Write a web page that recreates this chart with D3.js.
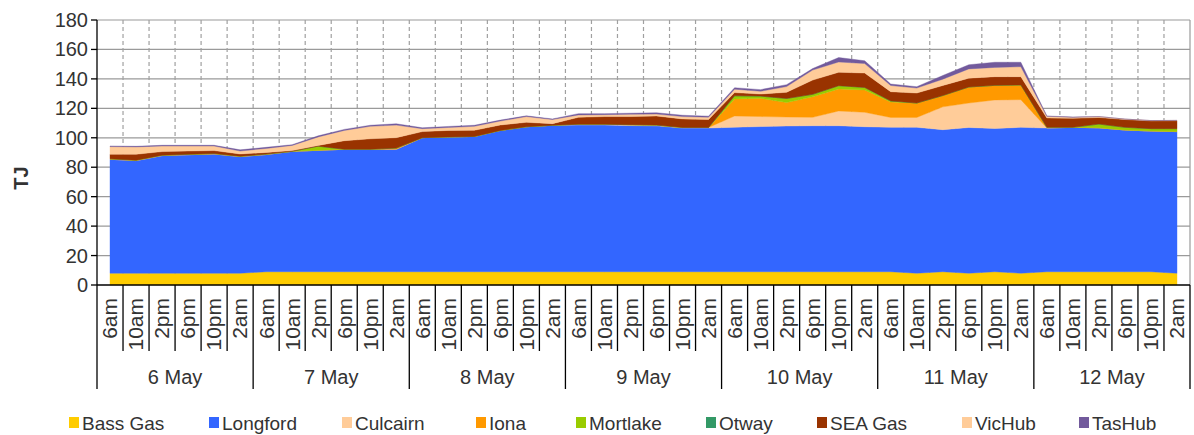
<!DOCTYPE html>
<html>
<head>
<meta charset="utf-8">
<script src="https://cdn.jsdelivr.net/npm/d3@7/dist/d3.min.js"></script>
<style>
  html, body { margin: 0; padding: 0; background: #fff; }
  svg { display: block; font-family: "Liberation Sans", Arial, sans-serif; }
</style>
</head>
<body>
<svg id="chart" width="1194" height="435"></svg>
<script>
// Victorian gas injections by supply point, 4-hourly, 6–12 May (TJ)
const days = ["6 May", "7 May", "8 May", "9 May", "10 May", "11 May", "12 May"];
const times = ["6am", "10am", "2pm", "6pm", "10pm", "2am"];
const yTicks = [0, 20, 40, 60, 80, 100, 120, 140, 160, 180];

const seriesNames = ["Bass Gas", "Longford", "Culcairn", "Iona", "Mortlake", "Otway", "SEA Gas", "VicHub", "TasHub"];
const seriesColors = ["#FFCC00", "#3366FF", "#FFCC99", "#FF9900", "#99CC00", "#339966", "#993300", "#FFCC99", "#725A9C"];

const bassGas = [8, 8, 8, 8, 8, 8, 9, 9, 9, 9, 9, 9, 9, 9, 9, 9, 9, 9, 9, 9, 9,
  9, 9, 9, 9, 9, 9, 9, 9, 9, 9, 8, 9, 8, 9, 8, 9, 9, 9, 9, 9, 8];
const longford = [77.4, 76.5, 79.9, 80.5, 81.0, 79.2, 79.6, 81.8, 82.5, 83.2, 83.2, 83.2,
  91.1, 91.6, 91.9, 96.0, 98.5, 99.5, 99.7, 99.7, 99.3, 99.1, 97.6, 97.6,
  98.2, 98.6, 99.0, 99.2, 99.2, 98.5, 98.1, 99.1, 96.5, 99.0, 97.3, 99.1,
  97.6, 98.1, 97.8, 96.3, 95.6, 96.2];
const culcairn = [0, 0, 0, 0, 0, 0, 0, 0, 0, 0, 0, 0, 0, 0, 0, 0, 0, 0,
  0.5, 0.5, 0.6, 0.5, 0.4, 0.4, 7.6, 6.8, 6.1, 5.7, 10.0, 9.8, 6.7, 6.7,
  15.5, 16.6, 19.4, 18.8, 0, 0, 0, 0, 0, 0];
const iona = [0.3, 0.3, 0.3, 0.3, 0.3, 0.3, 0.3, 0, 0, 0, 0, 0.8, 0, 0, 0, 0, 0, 0,
  0, 0, 0, 0, 0, 0, 11.6, 12.4, 9.8, 14.0, 15.0, 15.2, 10.5, 9.8,
  7.7, 10.9, 9.9, 10.0, 0.5, 0, 0, 0, 0, 0];
const mortlake = [0, 0, 0, 0, 0, 0, 0, 0, 2.8, 0, 0, 0, 0, 0, 0, 0, 0, 0,
  0, 0, 0, 0, 0, 0, 2.1, 1.5, 2.8, 1.6, 2.2, 1.7, 0.7, 0,
  0, 0, 0, 0, 0, 0, 2.5, 1.8, 1.6, 2.0];
const otway = [0, 0, 0, 0, 0, 0, 0, 0, 0, 0, 0, 0, 0, 0, 0, 0, 0, 0, 0, 0, 0,
  0, 0, 0, 0, 0, 0, 0, 0, 0, 0, 0, 0, 0, 0, 0, 0, 0, 0, 0, 0, 0];
const seaGas = [3.1, 4.0, 2.4, 2.2, 2.0, 1.5, 1.1, 0.5, 0.5, 5.8, 7.1, 7.1,
  4.1, 4.4, 4.2, 3.7, 3.0, 1.1, 4.7, 5.2, 5.5, 6.2, 5.8, 5.5,
  2.2, 1.4, 4.2, 9.7, 9.1, 9.8, 6.3, 6.8, 6.8, 6.0, 5.9, 5.6,
  6.4, 6.1, 4.5, 5.3, 5.3, 5.4];
const vicHub = [5.2, 5.0, 3.8, 3.4, 3.1, 2.0, 2.8, 3.5, 5.8, 7.0, 8.5, 8.5,
  2.0, 2.0, 2.7, 2.7, 3.9, 2.8, 1.6, 1.3, 1.6, 1.3, 1.6, 1.5,
  2.3, 1.9, 3.9, 6.8, 7.0, 6.4, 4.2, 3.4, 4.3, 6.3, 6.3, 6.8,
  1.1, 0.7, 0.6, 0.3, 0.2, 0.2];
const tasHub = [0.4, 0.4, 0.5, 0.5, 0.5, 0.8, 0.7, 0.5, 0.7, 0.7, 0.7, 0.9,
  0.6, 0.7, 0.7, 0.6, 0.5, 0.4, 0.9, 0.7, 0.7, 0.9, 0.9, 0.7,
  1.0, 1.1, 1.3, 1.0, 3.0, 1.9, 1.0, 0.9, 2.5, 2.8, 3.5, 3.0,
  0.2, 0.2, 0, 0, 0, 0];

const seriesValues = [bassGas, longford, culcairn, iona, mortlake, otway, seaGas, vicHub, tasHub];

// ---- build rows for the stack ----
const nPts = days.length * times.length;
const rows = d3.range(nPts).map(i => {
  const r = { idx: i };
  seriesNames.forEach((name, k) => { r[name] = seriesValues[k][i]; });
  return r;
});

// ---- layout ----
const plot = { left: 97, right: 1190, top: 20, bottom: 285 };
const svg = d3.select("#chart");
const textColor = "#333";

const x = d3.scaleBand().domain(d3.range(nPts)).range([plot.left, plot.right]);
const bw = x.bandwidth();
const cx = i => x(i) + bw / 2;
const y = d3.scaleLinear().domain([0, 180]).range([plot.bottom, plot.top]);

// ---- gridlines ----
const grid = svg.append("g");
grid.selectAll("line.h").data(yTicks.filter(t => t > 0)).join("line")
  .attr("x1", plot.left).attr("x2", plot.right)
  .attr("y1", d => y(d)).attr("y2", d => y(d))
  .attr("stroke", "#9a9a9a").attr("stroke-width", 1.2);
grid.selectAll("line.v").data(d3.range(1, nPts)).join("line")
  .attr("x1", d => plot.left + d * bw).attr("x2", d => plot.left + d * bw)
  .attr("y1", plot.top).attr("y2", plot.bottom)
  .attr("stroke", "#a0a0a0").attr("stroke-width", 1.2)
  .attr("stroke-dasharray", "4,3");
grid.append("line")
  .attr("x1", plot.right).attr("x2", plot.right)
  .attr("y1", plot.top).attr("y2", plot.bottom)
  .attr("stroke", "#9a9a9a").attr("stroke-width", 1.2);

// ---- stacked areas ----
const stack = d3.stack().keys(seriesNames);
const layers = stack(rows);
const area = d3.area()
  .x(d => cx(d.data.idx))
  .y0(d => y(d[0]))
  .y1(d => y(d[1]))
  .curve(d3.curveLinear);

svg.append("g").selectAll("path").data(layers).join("path")
  .attr("d", area)
  .attr("fill", (d, k) => seriesColors[k])
  .attr("stroke", (d, k) => seriesColors[k])
  .attr("stroke-width", 0.4);

// ---- y axis ----
const yAxis = svg.append("g");
yAxis.append("line")
  .attr("x1", plot.left).attr("x2", plot.left)
  .attr("y1", plot.top).attr("y2", plot.bottom)
  .attr("stroke", "#000").attr("stroke-width", 1.3);
yAxis.selectAll("line.t").data(yTicks).join("line")
  .attr("x1", plot.left - 6).attr("x2", plot.left)
  .attr("y1", d => y(d)).attr("y2", d => y(d))
  .attr("stroke", "#000").attr("stroke-width", 1.3);
yAxis.selectAll("text").data(yTicks).join("text")
  .attr("x", plot.left - 9).attr("y", d => y(d))
  .attr("dy", "0.35em").attr("text-anchor", "end")
  .attr("font-size", 20).attr("fill", textColor)
  .text(d => d);

svg.append("text")
  .attr("transform", "translate(21,178) rotate(-90)")
  .attr("dy", "0.35em").attr("text-anchor", "middle")
  .attr("font-size", 20).attr("font-weight", "bold").attr("fill", textColor)
  .text("TJ");

// ---- x axis (two-level categories) ----
const xAxis = svg.append("g");
xAxis.append("line")
  .attr("x1", plot.left).attr("x2", plot.right)
  .attr("y1", plot.bottom).attr("y2", plot.bottom)
  .attr("stroke", "#000").attr("stroke-width", 1.3);
xAxis.selectAll("line.t").data(d3.range(0, nPts + 1)).join("line")
  .attr("x1", d => plot.left + d * bw).attr("x2", d => plot.left + d * bw)
  .attr("y1", plot.bottom)
  .attr("y2", d => d % times.length === 0 ? 389 : 351)
  .attr("stroke", "#000").attr("stroke-width", 1.3);
xAxis.selectAll("text.time").data(d3.range(nPts)).join("text")
  .attr("transform", d => `translate(${cx(d)},298) rotate(-90)`)
  .attr("dy", "0.35em").attr("text-anchor", "end")
  .attr("font-size", 21).attr("fill", textColor)
  .text(d => times[d % times.length]);
xAxis.selectAll("text.day").data(days).join("text")
  .attr("x", (d, k) => plot.left + (k * times.length + times.length / 2) * bw)
  .attr("y", 384).attr("text-anchor", "middle")
  .attr("font-size", 20).attr("fill", textColor)
  .text(d => d);

// ---- legend ----
const legendX = [69, 209, 342, 476, 576, 706, 817, 962, 1079];
const legend = svg.append("g");
seriesNames.forEach((name, k) => {
  legend.append("rect")
    .attr("x", legendX[k]).attr("y", 417)
    .attr("width", 10).attr("height", 11)
    .attr("fill", seriesColors[k]);
  legend.append("text")
    .attr("x", legendX[k] + 13).attr("y", 429.5)
    .attr("font-size", 19).attr("fill", textColor)
    .text(name);
});
</script>
</body>
</html>
